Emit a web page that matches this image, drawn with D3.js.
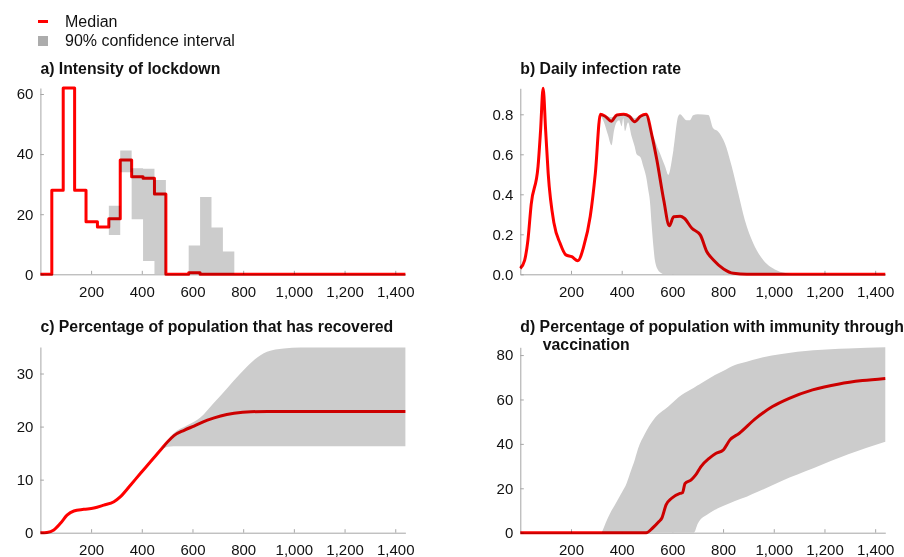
<!DOCTYPE html>
<html>
<head>
<meta charset="utf-8">
<script src="https://cdn.jsdelivr.net/npm/d3@7"></script>
<style>
  body { margin: 0; background: #fff; }
  svg text { font-family: 'Liberation Sans', Arial, sans-serif; fill: #111; }
  .axis path, .axis line { stroke: #a6a6a6; }
  .axis text { font-size: 15px; fill: #111; }
  .title { font-size: 15.8px; font-weight: bold; }
  .band { fill: #cccccc; stroke: none; }
  .median { fill: none; stroke: #ff0000; stroke-width: 3; stroke-linejoin: round; mix-blend-mode: multiply; }
</style>
</head>
<body>
<div id="chart"></div>
<script>
const xTicks = [200, 400, 600, 800, 1000, 1200, 1400];

// a) lockdown intensity, one value per 45-day period (start day)
const lockStart = [0, 45, 90, 135, 180, 225, 270, 315, 360, 405, 450, 495, 540, 585, 630, 675, 720, 765];
const lockMedian = [0, 28, 62, 28, 17.5, 15.7, 18.5, 38, 32.5, 32, 26.7, 0, 0, 0.5, 0, 0, 0, 0];
const lockLow = [0, 28, 62, 28, 17.5, 15.7, 13.1, 34, 18.3, 4.4, 0, 0, 0, 0, 0, 0, 0, 0];
const lockHigh = [0, 28, 62, 28, 17.5, 15.7, 22.8, 41.2, 35.3, 35.1, 31.4, 0, 0, 9.6, 25.7, 15.6, 7.6, 0];

// b) daily infection rate
const infDays = [0, 17, 30, 43, 70, 80, 90, 100, 110, 133, 157, 180, 203, 227, 250, 276, 296, 316, 335, 359, 381, 408, 430, 451, 474, 496, 520, 539, 566, 588, 605, 631, 647, 677, 710, 736, 762, 802, 841, 894, 1440];
const infMedian = [0.03, 0.07, 0.17, 0.35, 0.54, 0.72, 0.93, 0.72, 0.505, 0.255, 0.155, 0.097, 0.088, 0.068, 0.138, 0.29, 0.505, 0.80, 0.79, 0.765, 0.797, 0.80, 0.79, 0.763, 0.79, 0.80, 0.69, 0.57, 0.37, 0.243, 0.288, 0.29, 0.28, 0.23, 0.197, 0.113, 0.072, 0.027, 0.005, 0, 0];
const infBandDays = [314, 330, 345, 360, 370, 380, 390, 400, 406, 413, 425, 439, 451, 459, 474, 485, 496, 505, 511, 518, 525, 531, 544, 551, 560, 571, 584, 604, 623, 630, 656, 669, 682, 700, 742, 761, 781, 807, 834, 860, 886, 919, 959, 1011, 1064, 1100, 1440];
const infLow = [0.80, 0.76, 0.70, 0.645, 0.72, 0.76, 0.77, 0.74, 0.78, 0.715, 0.76, 0.69, 0.64, 0.60, 0.585, 0.54, 0.49, 0.42, 0.37, 0.25, 0.14, 0.07, 0.02, 0.01, 0.003, 0, 0, 0, 0, 0, 0, 0, 0, 0, 0, 0, 0, 0, 0, 0, 0, 0, 0, 0, 0, 0, 0];
const infHigh = [0.80, 0.797, 0.79, 0.785, 0.79, 0.80, 0.80, 0.80, 0.80, 0.80, 0.797, 0.79, 0.78, 0.785, 0.795, 0.798, 0.80, 0.79, 0.76, 0.725, 0.69, 0.67, 0.625, 0.605, 0.575, 0.54, 0.497, 0.62, 0.79, 0.80, 0.77, 0.77, 0.795, 0.80, 0.797, 0.73, 0.713, 0.655, 0.54, 0.405, 0.27, 0.155, 0.07, 0.02, 0.003, 0, 0];

// c) share of population recovered (%)
const recDays = [0, 26, 53, 79, 105, 132, 171, 211, 250, 290, 316, 356, 395, 435, 474, 501, 527, 567, 606, 659, 711, 764, 830, 896, 1440];
const recMedian = [0, 0.06, 0.5, 1.76, 3.3, 4.1, 4.4, 4.65, 5.2, 5.84, 6.8, 9.0, 11.2, 13.4, 15.6, 17.1, 18.3, 19.3, 20.1, 21.2, 22.0, 22.5, 22.8, 22.85, 22.85];
const recBandDays = [470, 501, 525, 578, 631, 683, 736, 789, 842, 894, 960, 1026, 1440];
const recLow = [15.3, 16.2, 16.3, 16.3, 16.3, 16.3, 16.3, 16.3, 16.3, 16.3, 16.3, 16.3, 16.3];
const recHigh = [15.3, 17.4, 18.7, 20.2, 21.7, 24.4, 27.2, 30, 32.5, 34.1, 34.7, 34.9, 34.9];

// d) share of population immune through vaccination (%)
const vacDays = [0, 497, 521, 547, 558, 575, 597, 630, 640, 650, 673, 692, 712, 745, 771, 800, 827, 863, 929, 995, 1061, 1153, 1258, 1350, 1440];
const vacMedian = [0, 0, 2, 5, 6.5, 12.5, 15.5, 17.7, 18, 22.2, 23.7, 26, 29.7, 33.5, 35.7, 37.2, 41.8, 44.7, 51.5, 56.8, 60.5, 64.3, 67, 68.5, 69.5];
const vacBandDays = [321, 354, 373, 406, 415, 433, 452, 465, 491, 525, 584, 636, 685, 700, 709, 735, 768, 800, 847, 893, 939, 1031, 1156, 1294, 1440];
const vacLow = [0, 0, 0, 0, 0, 0, 0, 0, 0, 0, 0, 0, 0, 4, 5.7, 8, 10.3, 12, 14.3, 16.2, 18.5, 23.3, 29, 35.3, 41];
const vacHigh = [0, 8.7, 12.5, 19.2, 21, 26.8, 33, 38, 44.5, 50.8, 56.8, 62, 65.3, 66.4, 67, 68.8, 71, 72.8, 75.5, 77, 78.5, 80.5, 82.2, 83, 83.5];

(function () {
  let svg = d3.select('#chart').append('svg').attr('width', 904).attr('height', 557);

  // legend
  let legend = svg.append('g');
  legend.append('rect').attr('x', 38).attr('y', 20).attr('width', 10).attr('height', 3).attr('fill', '#ff0000');
  legend.append('text').attr('x', 65).attr('y', 26.7).style('font-size', '16px').text('Median');
  legend.append('rect').attr('x', 38).attr('y', 36).attr('width', 10).attr('height', 10).attr('fill', '#acacac');
  legend.append('text').attr('x', 65).attr('y', 46.2).style('font-size', '16px').text('90% confidence interval');

  function drawPanel(p) {
    let x = d3.scaleLinear().domain([0, 1440]).range([p.left, p.left + 365]);
    let y = d3.scaleLinear().domain([0, p.yMax]).range([p.bottom, p.top]);
    let g = svg.append('g');

    p.title.forEach((t, i) => {
      g.append('text')
        .attr('class', 'title')
        .attr('x', p.left + (i > 0 ? 22.5 : 0))
        .attr('y', p.titleY + i * 18)
        .text(t);
    });

    g.append('g')
      .attr('class', 'axis')
      .attr('transform', `translate(0, ${p.bottom})`)
      .call(d3.axisBottom(x).tickValues(xTicks).tickFormat(d3.format(',')).tickSize(-3.5).tickSizeOuter(0).tickPadding(12))
      .call((a) => a.selectAll('text').attr('dy', '0.71em'));

    g.append('g')
      .attr('class', 'axis')
      .attr('transform', `translate(${p.left}, 0)`)
      .call(d3.axisLeft(y).tickValues(p.yTicks).tickFormat(p.fmt).tickSize(-3.5).tickSizeOuter(0).tickPadding(7));

    let curve = p.step ? d3.curveStepAfter : d3.curveMonotoneX;

    let band = p.bandDays.map((d, i) => ({ day: d, lo: p.low[i], hi: p.high[i] }));
    g.append('path')
      .datum(band)
      .attr('class', 'band')
      .attr('d', d3.area().curve(curve).x((d) => x(d.day)).y0((d) => y(d.lo)).y1((d) => y(d.hi)));

    let med = p.days.map((d, i) => ({ day: d, v: p.median[i] }));
    g.append('path')
      .datum(med)
      .attr('class', 'median')
      .attr('d', d3.line().curve(curve).x((d) => x(d.day)).y((d) => y(d.v)));
  }

  // step data closes at the last day
  let lockDays = lockStart.concat([1440]);
  let lastOf = (arr) => arr.concat([arr[arr.length - 1]]);

  drawPanel({
    title: ['a) Intensity of lockdown'], titleY: 73.5,
    left: 40.4, top: 88, bottom: 274.3, yMax: 62, yTicks: [0, 20, 40, 60], fmt: d3.format('d'),
    step: true,
    days: lockDays, median: lastOf(lockMedian),
    bandDays: lockDays, low: lastOf(lockLow), high: lastOf(lockHigh)
  });

  drawPanel({
    title: ['b) Daily infection rate'], titleY: 73.5,
    left: 520.3, top: 88.3, bottom: 274.3, yMax: 0.93, yTicks: [0, 0.2, 0.4, 0.6, 0.8], fmt: d3.format('.1f'),
    days: infDays, median: infMedian,
    bandDays: infBandDays, low: infLow, high: infHigh
  });

  drawPanel({
    title: ['c) Percentage of population that has recovered'], titleY: 331.5,
    left: 40.4, top: 347, bottom: 532.7, yMax: 35, yTicks: [0, 10, 20, 30], fmt: d3.format('d'),
    days: recDays, median: recMedian,
    bandDays: recBandDays, low: recLow, high: recHigh
  });

  drawPanel({
    title: ['d) Percentage of population with immunity through', 'vaccination'], titleY: 331.5,
    left: 520.3, top: 347.3, bottom: 532.7, yMax: 83.5, yTicks: [0, 20, 40, 60, 80], fmt: d3.format('d'),
    days: vacDays, median: vacMedian,
    bandDays: vacBandDays, low: vacLow, high: vacHigh
  });
})();
</script>
</body>
</html>
